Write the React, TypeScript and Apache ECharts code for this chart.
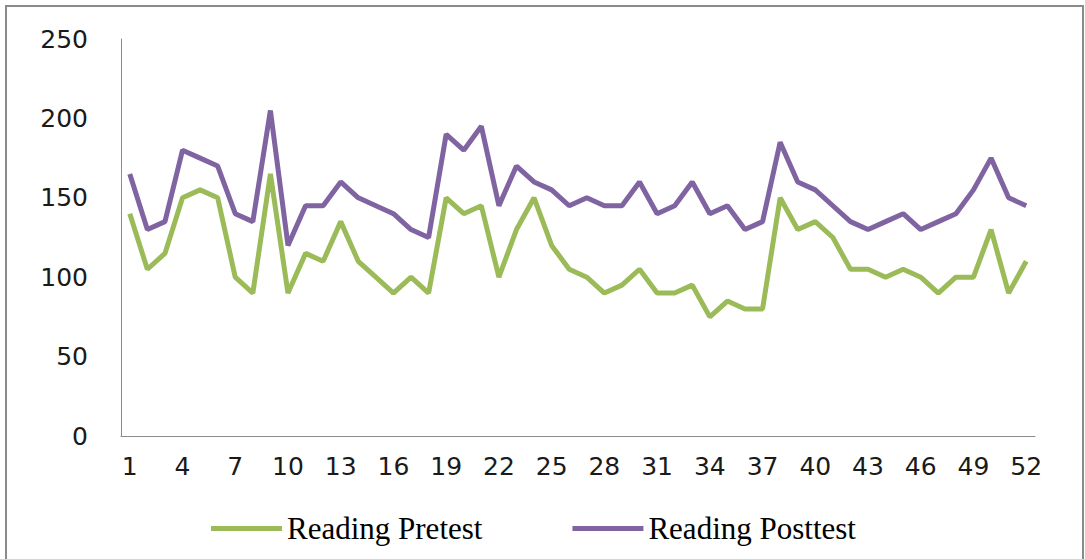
import React, { useEffect, useRef } from "react";
import * as echarts from "echarts";

const categories: string[] = [
  "1", "2", "3", "4", "5", "6", "7", "8", "9", "10",
  "11", "12", "13", "14", "15", "16", "17", "18", "19", "20",
  "21", "22", "23", "24", "25", "26", "27", "28", "29", "30",
  "31", "32", "33", "34", "35", "36", "37", "38", "39", "40",
  "41", "42", "43", "44", "45", "46", "47", "48", "49", "50",
  "51", "52",
];

const readingPretest: number[] = [
  140, 105, 115, 150, 155, 150, 100, 90, 165, 90,
  115, 110, 135, 110, 100, 90, 100, 90, 150, 140,
  145, 100, 130, 150, 120, 105, 100, 90, 95, 105,
  90, 90, 95, 75, 85, 80, 80, 150, 130, 135,
  125, 105, 105, 100, 105, 100, 90, 100, 100, 130,
  90, 110,
];

const readingPosttest: number[] = [
  165, 130, 135, 180, 175, 170, 140, 135, 205, 120,
  145, 145, 160, 150, 145, 140, 130, 125, 190, 180,
  195, 145, 170, 160, 155, 145, 150, 145, 145, 160,
  140, 145, 160, 140, 145, 130, 135, 185, 160, 155,
  145, 135, 130, 135, 140, 130, 135, 140, 155, 175,
  150, 145,
];

const seriesNames: string[] = ["Reading Pretest", "Reading Posttest"];

export default function App() {
  const ref = useRef<HTMLDivElement | null>(null);

  useEffect(() => {
    if (!ref.current) return;
    const chart = echarts.init(ref.current, undefined, { renderer: "svg" });
    chart.setOption({
      animation: false,
      backgroundColor: "#ffffff",
      graphic: [
        {
          type: "rect",
          shape: { x: 6, y: 6, width: 1077, height: 600 },
          style: { fill: "none", stroke: "#8a8a8a", lineWidth: 2 },
          silent: true,
          z: 100,
        },
      ],
      grid: { left: 121, right: 50, top: 39, bottom: 123, containLabel: false },
      legend: {
        left: 206,
        top: 508,
        itemWidth: 71,
        itemHeight: 5,
        itemGap: 90,
        icon: "rect",
        data: seriesNames,
        textStyle: {
          fontFamily: "Liberation Serif",
          fontSize: 31,
          color: "#000000",
          padding: [0, 0, 0, 0],
        },
      },
      xAxis: {
        type: "category",
        data: categories,
        boundaryGap: true,
        axisLine: { show: true, lineStyle: { color: "#8c8c8c", width: 1 } },
        axisTick: { show: false },
        axisLabel: {
          interval: 2,
          margin: 18,
          fontFamily: "DejaVu Sans",
          fontSize: 25,
          color: "#1a1a1a",
        },
        splitLine: { show: false },
      },
      yAxis: {
        type: "value",
        min: 0,
        max: 250,
        interval: 50,
        axisLine: { show: true, lineStyle: { color: "#8c8c8c", width: 1 } },
        axisTick: { show: false },
        axisLabel: {
          margin: 33,
          fontFamily: "DejaVu Sans",
          fontSize: 25,
          color: "#1a1a1a",
        },
        splitLine: { show: false },
      },
      series: [
        {
          name: seriesNames[0],
          type: "line",
          data: readingPretest,
          symbol: "none",
          lineStyle: { color: "#9BBB59", width: 5 },
          itemStyle: { color: "#9BBB59" },
        },
        {
          name: seriesNames[1],
          type: "line",
          data: readingPosttest,
          symbol: "none",
          lineStyle: { color: "#8064A2", width: 5 },
          itemStyle: { color: "#8064A2" },
        },
      ],
    });
    return () => {
      chart.dispose();
    };
  }, []);

  return (
    <div
      ref={ref}
      style={{ position: "fixed", left: 0, top: 0, width: 1085, height: 559 }}
    />
  );
}
